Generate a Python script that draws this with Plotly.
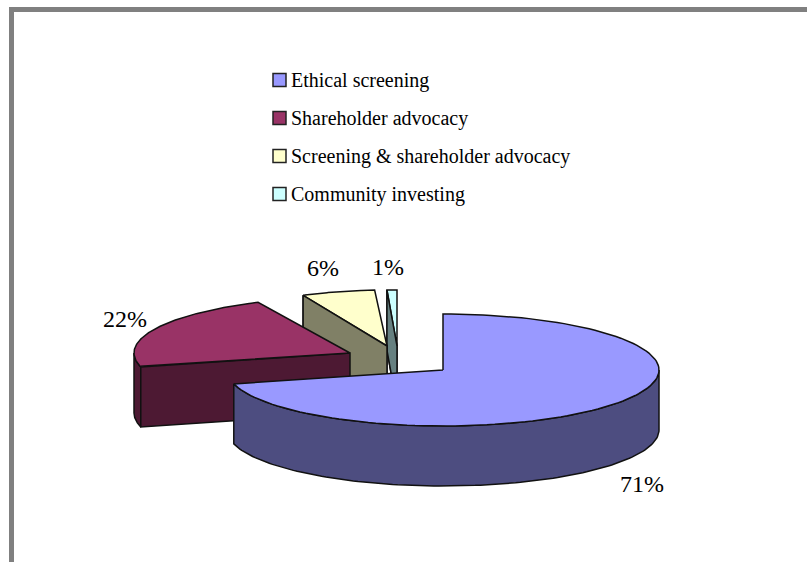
import numpy as np
import plotly.graph_objects as go

# Share of each investing approach, in percent
categories = ["Ethical screening", "Shareholder advocacy",
              "Screening & shareholder advocacy", "Community investing"]
shares = [71, 22, 6, 1]

top_colors = ["#9999FF", "#993366", "#FFFFCC", "#CCFFFF"]
side_colors = ["#4D4D80", "#4D1933", "#808066", "#668080"]

# Projected pie: apex of every exploded wedge, and its ellipse radii in pixels
apex_x = [443, 350, 387, 397]
apex_y = [370, 353, 346, 346]
radius_x = [216, 216, 197, 160]
radius_y = 56
depth = 60

label_x = [642, 125, 323, 388]
label_y = [484, 319, 268, 267]
legend_y = [80, 118, 156, 194]

EDGE = dict(color="#111111", width=1.5)
FONT = "Liberation Serif, Times New Roman, serif"


def project(i, degrees, drop=0.0):
    """Map a clockwise-from-north pie angle to page coordinates."""
    a = np.radians(degrees)
    return (apex_x[i] + radius_x[i] * np.sin(a),
            apex_y[i] - radius_y * np.cos(a) + drop)


def polygon(fig, xs, ys, color):
    fig.add_trace(go.Scatter(x=list(xs), y=list(ys), mode="lines", fill="toself",
                             fillcolor=color, line=EDGE, hoverinfo="skip",
                             showlegend=False))


fig = go.Figure()

bounds = np.concatenate([[0], np.cumsum(shares)]) * 3.6

# Painted from the back wedge to the front one
for i in reversed(range(len(shares))):
    start, end = bounds[i], bounds[i + 1]
    sweep = np.linspace(start, end, 121)
    arc_x, arc_y = project(i, sweep)

    # Rim of the wedge, where it faces the viewer (90..270 degrees)
    lo, hi = max(start, 90.0), min(end, 270.0)
    if hi > lo:
        rim = np.linspace(lo, hi, 121)
        tx, ty = project(i, rim)
        bx, by = project(i, rim[::-1], depth)
        polygon(fig, np.r_[tx, bx, tx[0]], np.r_[ty, by, ty[0]], side_colors[i])

    # Cut face running from the leading arc end back to the apex
    if i > 0:
        ox, oy = project(i, start)
        polygon(fig,
                [ox, apex_x[i], apex_x[i], ox, ox],
                [oy, apex_y[i], apex_y[i] + depth, oy + depth, oy],
                side_colors[i])

    # Top face of the wedge
    polygon(fig,
            np.r_[apex_x[i], arc_x, apex_x[i]],
            np.r_[apex_y[i], arc_y, apex_y[i]],
            top_colors[i])

    # The cut face of a back wedge leans over its own top face
    if i >= 2:
        ox, oy = project(i, start)
        polygon(fig,
                [ox, apex_x[i], apex_x[i], ox, ox],
                [oy, apex_y[i], apex_y[i] + depth, oy + depth, oy],
                side_colors[i])

# Legend swatches
fig.add_trace(go.Scatter(x=[279.5] * len(categories), y=legend_y, mode="markers",
                         marker=dict(symbol="square", size=13, color=top_colors,
                                     line=dict(color="#222222", width=1.5)),
                         hoverinfo="skip", showlegend=False))

annotations = []
for name, y in zip(categories, legend_y):
    annotations.append(dict(x=289, y=y, text=name, xref="x", yref="y",
                            xanchor="left", yanchor="middle", showarrow=False,
                            font=dict(family=FONT, size=20, color="#000000")))
for share, x, y in zip(shares, label_x, label_y):
    annotations.append(dict(x=x, y=y, text=f"{share}%", xref="x", yref="y",
                            xanchor="center", yanchor="middle", showarrow=False,
                            font=dict(family=FONT, size=24, color="#000000")))

# Grey page frame along the top and left edges
frame = [
    dict(type="rect", xref="x", yref="y", x0=9, x1=807, y0=7, y1=12,
         fillcolor="#808080", line_width=0, layer="below"),
    dict(type="rect", xref="x", yref="y", x0=9, x1=14, y0=7, y1=562,
         fillcolor="#808080", line_width=0, layer="below"),
]

fig.update_layout(
    width=807, height=562, autosize=False,
    margin=dict(l=0, r=0, t=0, b=0),
    paper_bgcolor="#FFFFFF", plot_bgcolor="#FFFFFF",
    showlegend=False,
    xaxis=dict(range=[0, 807], visible=False, fixedrange=True),
    yaxis=dict(range=[562, 0], visible=False, fixedrange=True),
    annotations=annotations, shapes=frame,
)

fig.write_html("out.html", config=dict(displayModeBar=False))
